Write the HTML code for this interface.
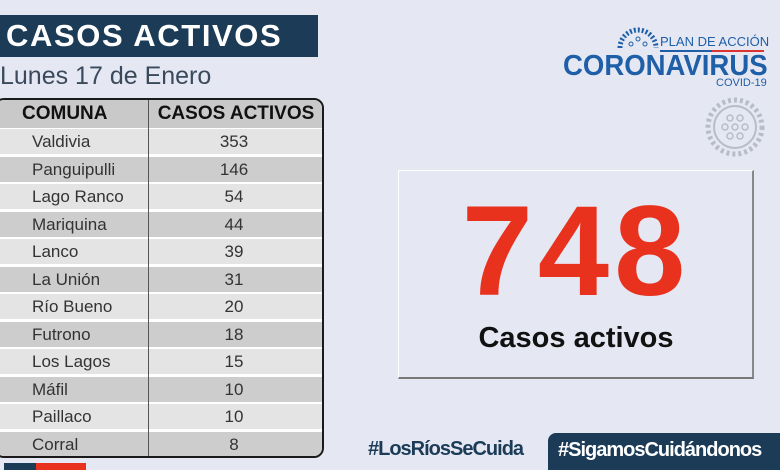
<!DOCTYPE html>
<html><head><meta charset="utf-8"><style>
*{margin:0;padding:0;box-sizing:border-box}
body{width:780px;height:470px;overflow:hidden;background:#e5e8f3;font-family:"Liberation Sans",sans-serif;position:relative}
.abs{position:absolute;white-space:nowrap}
.title{left:0;top:15px;width:318px;height:42px;background:#1b3b57;color:#fff;font-weight:bold;font-size:31px;letter-spacing:1.6px;line-height:42px;padding-left:6px;overflow:hidden}
.sub{left:0;top:60px;font-size:25px;color:#3a4a5c;line-height:32px}
.table{left:-6px;top:98px;width:330px;height:360px;border:2px solid #1a1a1a;border-radius:10px;overflow:hidden;background:#fff}
.row{position:absolute;left:0;width:100%;height:25px;font-size:17px;line-height:25px;color:#333}
.row .c1{position:absolute;left:36px}
.row .c2{position:absolute;left:168px;width:140px;text-align:center}
.hdr{top:0;height:28px;background:#c9c9c9;font-weight:bold;color:#111;font-size:19px;line-height:28px}
.vline{position:absolute;left:152px;top:0;bottom:0;width:1px;background:#555}
.box{left:398px;top:170px;width:356px;height:209px;border:1px solid #fff;border-right:2px solid #888;border-bottom:2px solid #777;background:#e5e8f3}
.num{left:398px;top:182px;width:356px;text-align:center;color:#e8321e;font-weight:bold;font-size:128px;letter-spacing:5px;line-height:140px}
.lab{left:398px;top:322px;width:356px;text-align:center;font-weight:bold;font-size:29px;color:#111}
</style></head><body>
<div class="abs title">CASOS ACTIVOS</div>
<div class="abs sub">Lunes 17 de Enero</div>
<div class="abs table">
<div class="row hdr"><span class="c1" style="left:26px">COMUNA</span><span class="c2" style="left:152px;width:176px">CASOS ACTIVOS</span></div>
<div class="row" style="top:29px;background:#e4e4e4"><span class="c1">Valdivia</span><span class="c2">353</span></div>
<div class="row" style="top:57px;background:#cdcdcd"><span class="c1">Panguipulli</span><span class="c2">146</span></div>
<div class="row" style="top:84px;background:#e4e4e4"><span class="c1">Lago Ranco</span><span class="c2">54</span></div>
<div class="row" style="top:112px;background:#cdcdcd"><span class="c1">Mariquina</span><span class="c2">44</span></div>
<div class="row" style="top:139px;background:#e4e4e4"><span class="c1">Lanco</span><span class="c2">39</span></div>
<div class="row" style="top:167px;background:#cdcdcd"><span class="c1">La Unión</span><span class="c2">31</span></div>
<div class="row" style="top:194px;background:#e4e4e4"><span class="c1">Río Bueno</span><span class="c2">20</span></div>
<div class="row" style="top:222px;background:#cdcdcd"><span class="c1">Futrono</span><span class="c2">18</span></div>
<div class="row" style="top:249px;background:#e4e4e4"><span class="c1">Los Lagos</span><span class="c2">15</span></div>
<div class="row" style="top:277px;background:#cdcdcd"><span class="c1">Máfil</span><span class="c2">10</span></div>
<div class="row" style="top:304px;background:#e4e4e4"><span class="c1">Paillaco</span><span class="c2">10</span></div>
<div class="row" style="top:332px;background:#cdcdcd"><span class="c1">Corral</span><span class="c2">8</span></div>
<div class="vline"></div>
</div>
<div class="abs" style="left:4px;top:463px;width:32px;height:7px;background:#1b3b57"></div>
<div class="abs" style="left:36px;top:463px;width:50px;height:7px;background:#e8321e"></div>

<svg class="abs" style="left:617px;top:26px" width="42" height="24" viewBox="0 0 42 24"><path d="M3 22 A18 18 0 0 1 39 22" fill="none" stroke="#1f5fa8" stroke-width="5" stroke-dasharray="2 2"/><circle cx="14" cy="18" r="2" fill="none" stroke="#1f5fa8"/><circle cx="21" cy="13" r="2" fill="none" stroke="#1f5fa8"/><circle cx="28" cy="18" r="2" fill="none" stroke="#1f5fa8"/></svg>
<div class="abs" style="left:660px;top:34px;font-size:13px;color:#1f5fa8">PLAN DE ACCIÓN</div>
<div class="abs" style="left:660px;top:50px;width:104px;height:2px;background:linear-gradient(90deg,#1f5fa8 50%,#d33 50%)"></div>
<div class="abs" style="left:563px;top:50px;font-size:29px;font-weight:bold;color:#1f5fa8;transform:scaleX(0.95);transform-origin:left top">CORONAVIRUS</div>
<div class="abs" style="left:716px;top:77px;font-size:11px;color:#1f5fa8">COVID-19</div>
<svg class="abs" style="left:705px;top:97px" width="60" height="60" viewBox="0 0 60 60"><circle cx="30" cy="30" r="21" fill="none" stroke="#b7bcc8" stroke-width="2"/><circle cx="30" cy="30" r="27" fill="none" stroke="#b7bcc8" stroke-width="5" stroke-dasharray="3 3"/><g fill="none" stroke="#b7bcc8" stroke-width="1.5"><circle cx="30" cy="30" r="3"/><circle cx="20" cy="30" r="3"/><circle cx="40" cy="30" r="3"/><circle cx="25" cy="21" r="3"/><circle cx="35" cy="21" r="3"/><circle cx="25" cy="39" r="3"/><circle cx="35" cy="39" r="3"/></g></svg>

<div class="abs box"></div>
<div class="abs num">748</div>
<div class="abs lab">Casos activos</div>

<div class="abs" style="left:368px;top:438px;font-size:20px;font-weight:bold;color:#1b3b57;letter-spacing:-1px">#LosRíosSeCuida</div>
<div class="abs" style="left:548px;top:433px;width:232px;height:37px;background:#1b3b57;border-radius:8px 0 0 0;color:#fff;font-size:20px;font-weight:bold;letter-spacing:-1px;line-height:34px;padding-left:10px">#SigamosCuidándonos</div>
</body></html>
